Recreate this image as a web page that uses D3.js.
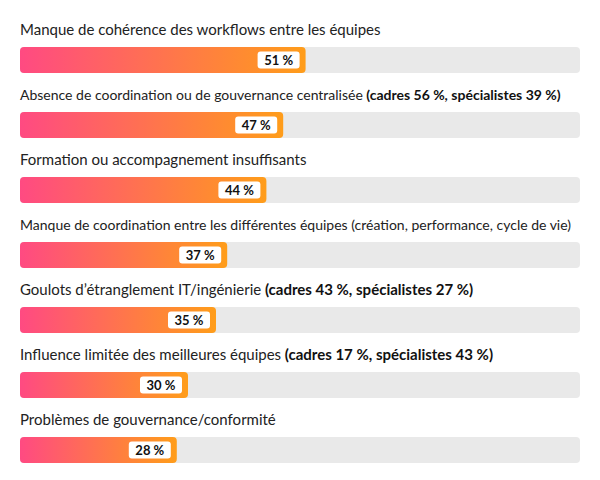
<!DOCTYPE html>
<html>
<head>
<meta charset="utf-8">
<script src="https://cdn.jsdelivr.net/npm/d3@7"></script>
<style>
  body { margin: 0; background: #fff; }
  svg { display: block; }
</style>
</head>
<body>
<svg width="600" height="480"></svg>
<script>
var labels = [
  "Manque de cohérence des workflows entre les équipes",
  "Absence de coordination ou de gouvernance centralisée",
  "Formation ou accompagnement insuffisants",
  "Manque de coordination entre les différentes équipes (création, performance, cycle de vie)",
  "Goulots d’étranglement IT/ingénierie",
  "Influence limitée des meilleures équipes",
  "Problèmes de gouvernance/conformité"
]
var notes = [
  "",
  "(cadres 56 %, spécialistes 39 %)",
  "",
  "",
  "(cadres 43 %, spécialistes 27 %)",
  "(cadres 17 %, spécialistes 43 %)",
  ""
]
var values = [51, 47, 44, 37, 35, 30, 28]

var left = 20, right = 580
var barH = 26
var rowStep = 65
var firstBar = 47

var svg = d3.select('svg')

var x = d3.scaleLinear()
    .domain([0, 100])
    .range([left, right])

var y = d3.scaleBand()
    .domain(d3.range(labels.length))
    .range([firstBar, firstBar + rowStep * labels.length])

var grad = svg.append('defs').append('linearGradient')
    .attr('id', 'barGrad')
    .attr('x1', '0%').attr('x2', '100%')
    .attr('y1', '0%').attr('y2', '0%')
grad.append('stop').attr('offset', '0%').attr('stop-color', '#ff4a82')
grad.append('stop').attr('offset', '100%').attr('stop-color', '#ff9d1a')

var rows = svg.selectAll('g.row')
    .data(values)
    .enter()
    .append('g')
    .attr('class', 'row')
    .attr('transform', function(d, i){
        return 'translate(0,' + y(i) + ')'
    })

// label with optional bold note
var txt = rows.append('text')
    .attr('x', left)
    .attr('y', -12)
    .style('font-family', 'Lato, sans-serif')
    .style('font-size', '15px')
    .style('fill', '#222')
txt.append('tspan')
    .text(function(d, i){ return labels[i] })
txt.append('tspan')
    .style('font-weight', 'bold')
    .style('fill', '#111')
    .text(function(d, i){ return notes[i] ? ' ' + notes[i] : '' })

// shrink long labels until they fit the track width
txt.each(function(){
    var size = 15
    while (this.getComputedTextLength() > right - left && size > 10) {
        size -= 1
        d3.select(this).style('font-size', size + 'px')
    }
})

// track
rows.append('rect')
    .attr('x', x(0))
    .attr('y', 0)
    .attr('width', x(100) - x(0))
    .attr('height', barH)
    .attr('rx', 4)
    .style('fill', '#e9e9e9')

// value bar
rows.append('rect')
    .attr('x', x(0))
    .attr('y', 0)
    .attr('width', function(d){ return x(d) - x(0) })
    .attr('height', barH)
    .attr('rx', 4)
    .style('fill', 'url(#barGrad)')

// value badge
var boxW = 42, boxH = 17
rows.append('rect')
    .attr('x', function(d){ return x(d) - 6 - boxW })
    .attr('y', (barH - boxH) / 2)
    .attr('width', boxW)
    .attr('height', boxH)
    .attr('rx', 3)
    .style('fill', '#fff')

rows.append('text')
    .attr('x', function(d){ return x(d) - 6 - boxW / 2 })
    .attr('y', barH / 2 + 4.5)
    .attr('text-anchor', 'middle')
    .style('font-family', 'Lato, sans-serif')
    .style('font-size', '13px')
    .style('font-weight', 'bold')
    .style('fill', '#111')
    .text(function(d){ return d + ' %' })
</script>
</body>
</html>
